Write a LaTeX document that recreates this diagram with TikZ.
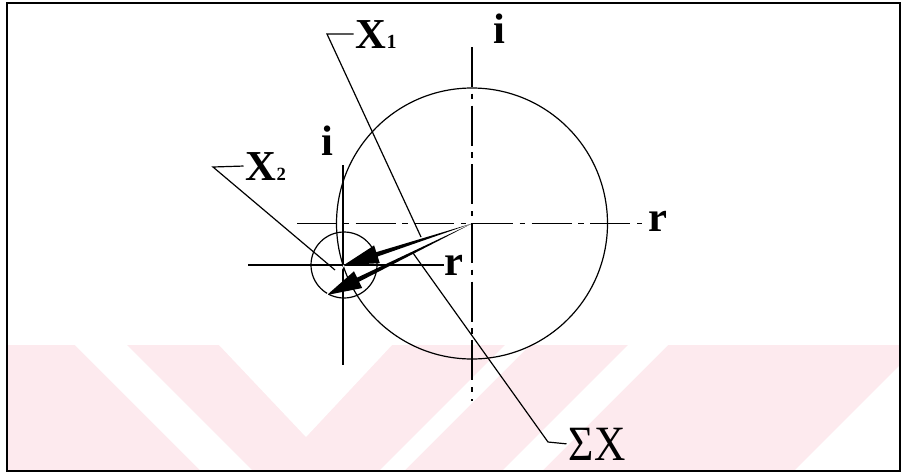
\documentclass[tikz,border=0pt]{standalone}
\usepackage{fontspec}
\usepackage{graphicx}
\setmainfont{Liberation Serif}
\usetikzlibrary{calc}
\definecolor{wm}{RGB}{253,234,238}
\begin{document}
\begin{tikzpicture}[x=0.75pt,y=-0.75pt,
  thinline/.style={line width=0.9pt, black},
  centerline/.style={thinline, dash pattern=on 30pt off 5pt on 4pt off 5pt},
  lbl/.style={font=\fontsize{32}{32}\selectfont\bfseries, inner sep=0pt},
  circ/.style={draw, circle, line width=0.9pt, inner sep=0pt},
  vec/.style={fill=black}]
\useasboundingbox (0,0) rectangle (904,475);
\fill[white] (0,0) rectangle (904,475);
% watermark
\begin{scope}
  \clip (7,345) rectangle (900,471);
  \fill[wm] (7,345) rectangle (900,471);
  \fill[white] (75,345) -- (127,345) -- (252,470) -- (200,470) -- cycle;
  \fill[white] (219,345) -- (392,345) -- (306,437) -- cycle;
  \fill[white] (505,345) -- (530,345) -- (405,470) -- (380,470) -- cycle;
  \fill[white] (628,345) -- (668,345) -- (543,470) -- (503,470) -- cycle;
  \fill[white] (920,345) -- (920,470) -- (795,470) -- cycle;
\end{scope}
% frame
\draw[line width=1.6pt] (7,3) rectangle (900,471);
% circles
\node[circ, minimum size=203.25pt] (big) at (472,223.5) {};
\node[circ, minimum size=49.5pt] (small) at (344,265) {};
\coordinate (C) at (big.center);
\coordinate (S) at (small.center);
% labels
\node[lbl, anchor=base] (itop) at (499,43) {i};
\node[lbl, anchor=base] (ismall) at (327,155) {i};
\node[lbl, anchor=base west] (rright) at (648,231) {r};
\node[lbl, anchor=base west] (rsmall) at (444,275) {r};
\node[lbl, anchor=base west, inner sep=1.5pt] (xone) at (353.5,48) {X\fontsize{15}{15}\selectfont 1};
\node[lbl, anchor=base west, inner sep=1.5pt] (xtwo) at (243.5,180) {X\fontsize{14}{14}\selectfont 2};
\node[font=\fontsize{37}{37}\selectfont, inner sep=1.5pt, anchor=base west] (sumx) at (566.5,460) {\scalebox{0.88}[1]{ΣX}};
% axes of big circle
\coordinate (vtop) at (472,47);
\coordinate (vbot) at (472,401);
\coordinate (hleft) at (297,223.5);
\draw[centerline] (vtop) -- (vbot);
\draw[centerline] (hleft) -- (C -| rright.west);
% axes of small circle
\coordinate (svtop) at (343,165);
\coordinate (svbot) at (343,365);
\coordinate (shleft) at (248,265);
\draw[thinline] (svtop) -- (svbot);
\draw[thinline] (shleft) -- (S -| rsmall.west);
% vectors
\coordinate (tA) at (S);
\coordinate (tB) at (327,295);
\coordinate (bA) at ($(tA)!26pt!(C)$);
\coordinate (bB) at ($(tB)!26pt!(C)$);
\fill[vec] (C) -- ($(bA)!1.7pt!90:(tA)$) -- ($(bA)!7pt!90:(tA)$) -- (tA)
  -- ($(bA)!7pt!-90:(tA)$) -- ($(bA)!1.7pt!-90:(tA)$) -- cycle;
\fill[vec] (C) -- ($(bB)!1.7pt!90:(tB)$) -- ($(bB)!7pt!90:(tB)$) -- (tB)
  -- ($(bB)!7pt!-90:(tB)$) -- ($(bB)!1.7pt!-90:(tB)$) -- cycle;
\draw[white, line width=0.8pt] (tA) -- (tB);
% leaders
\coordinate (x1b) at (327,34);
\coordinate (x1e) at (421,237);
\draw[thinline] (xone.west) -- (x1b) -- (x1e);
\coordinate (x2b) at (213,167);
\coordinate (x2e) at (335,270);
\draw[thinline] (xtwo.west) -- (x2b) -- (x2e);
\coordinate (sxb) at (548,442);
\coordinate (sxe) at (413,253);
\draw[thinline] (sumx.west) -- (sxb) -- (sxe);
\end{tikzpicture}
\end{document}
